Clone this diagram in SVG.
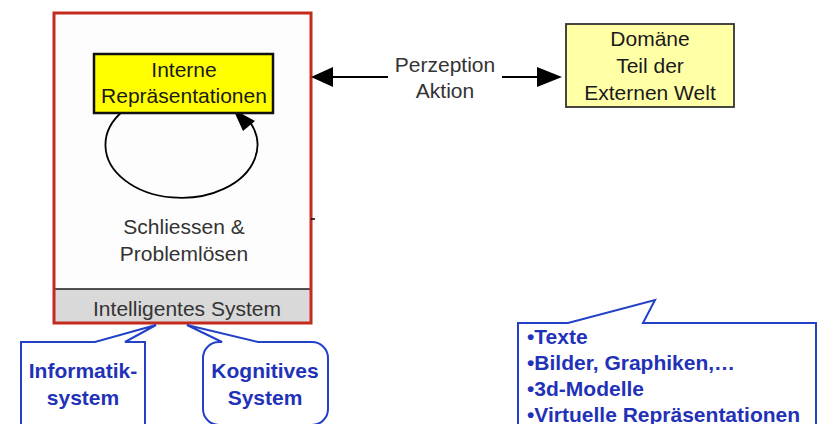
<svg xmlns="http://www.w3.org/2000/svg" width="826" height="424" viewBox="0 0 826 424">
  <style>
    .lbl { font-family: "Liberation Sans", Arial, sans-serif; font-size: 21px; fill: #333333; text-anchor: middle; }
    .dark { fill: #1a1a1a; }
    .blue { font-family: "Liberation Sans", Arial, sans-serif; font-size: 21px; font-weight: bold; fill: #1f32b8; }
    .mid { text-anchor: middle; }
    .callout { fill: #ffffff; stroke: #2340c8; stroke-width: 2; stroke-linejoin: miter; }
    .conn { stroke: #000000; stroke-width: 1.8; fill: none; }
    .head { fill: #000000; }
  </style>

  <rect width="826" height="424" fill="#ffffff"/>

  <!-- Intelligent system frame -->
  <g id="intelligentes-system">
    <rect x="54" y="13" width="257" height="310" fill="#fdfdfd"/>
    <rect x="54" y="289" width="257" height="34" fill="#d9d9d9"/>
    <line x1="54" y1="289" x2="311" y2="289" stroke="#1a1a1a" stroke-width="1.5"/>
    <rect x="54" y="13" width="257" height="310" fill="none" stroke="#c42b1c" stroke-width="3"/>
    <line x1="311" y1="219" x2="315" y2="219" stroke="#000" stroke-width="1.5"/>
    <text class="lbl" x="184" y="234">Schliessen &amp;</text>
    <text class="lbl" x="184" y="261">Problemlösen</text>
    <text class="lbl" x="187" y="316">Intelligentes System</text>
  </g>

  <!-- Connectors -->
  <g id="connectors">
    <path class="conn" d="M 123 111 A 76 53 0 1 0 250 122"/>
    <polygon class="head" points="233,109 243,131 255,121"/>
    <line class="conn" x1="333" y1="77" x2="388" y2="77"/>
    <polygon class="head" points="311,77 333,67 333,87"/>
    <line class="conn" x1="502" y1="77" x2="537" y2="77"/>
    <polygon class="head" points="562,77 537,67 537,87"/>
    <text class="lbl" x="445" y="72">Perzeption</text>
    <text class="lbl" x="445" y="98">Aktion</text>
  </g>

  <!-- Internal representations -->
  <g id="interne-repraesentationen">
    <rect x="94" y="54" width="179" height="59" fill="#ffff00" stroke="#111111" stroke-width="2.5"/>
    <text class="lbl dark" x="184" y="77">Interne</text>
    <text class="lbl dark" x="184" y="103">Repräsentationen</text>
  </g>

  <!-- Domain / external world -->
  <g id="domaene">
    <rect x="566" y="24" width="168" height="83" fill="#ffffa6" stroke="#333333" stroke-width="1.8"/>
    <text class="lbl dark" x="650" y="46">Domäne</text>
    <text class="lbl dark" x="650" y="73">Teil der</text>
    <text class="lbl dark" x="650" y="100">Externen Welt</text>
  </g>

  <!-- Callout: computer science system -->
  <g id="informatiksystem">
    <path class="callout" d="M 21 430 V 342 H 95 L 156 325 L 125 342 H 145 V 430"/>
    <text class="blue mid" x="83" y="378">Informatik-</text>
    <text class="blue mid" x="83" y="405">system</text>
  </g>

  <!-- Callout: cognitive system -->
  <g id="kognitives-system">
    <path class="callout" d="M 203 409 V 358 A 16 16 0 0 1 219 342 H 222 L 187 325 L 258 342 H 312 A 16 16 0 0 1 328 358 V 409 A 16 16 0 0 1 312 425 H 219 A 16 16 0 0 1 203 409 Z"/>
    <text class="blue mid" x="265" y="378">Kognitives</text>
    <text class="blue mid" x="265" y="405">System</text>
  </g>

  <!-- Callout: kinds of representation -->
  <g id="darstellungsformen">
    <path class="callout" d="M 518 430 V 323 H 568 L 655 300 L 643 323 H 816 V 430"/>
    <text class="blue" x="527" y="344">•Texte</text>
    <text class="blue" x="527" y="370">•Bilder, Graphiken,…</text>
    <text class="blue" x="527" y="396">•3d-Modelle</text>
    <text class="blue" x="527" y="422">•Virtuelle Repräsentationen</text>
  </g>
</svg>
